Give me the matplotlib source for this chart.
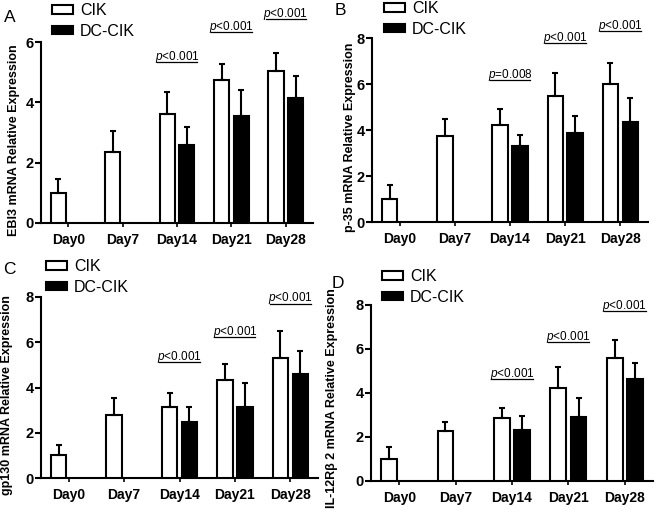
import numpy as np
import matplotlib
matplotlib.use("Agg")
import matplotlib.pyplot as plt
from matplotlib.patches import Patch

# -------------------------------------------------------
# Data
# -------------------------------------------------------
days = ["Day0", "Day7", "Day14", "Day21", "Day28"]
dc_idx = [2, 3, 4]

ebi3_cik = [1.0, 2.35, 3.6, 4.73, 5.03]
ebi3_cik_err = [0.47, 0.7, 0.73, 0.55, 0.62]
ebi3_dc = [2.58, 3.55, 4.13]
ebi3_dc_err = [0.59, 0.85, 0.75]
ebi3_p = ["p<0.001", "p<0.001", "p<0.001"]
ebi3_p_y = [5.35, 6.34, 6.75]

p35_cik = [1.0, 3.75, 4.22, 5.5, 6.0]
p35_cik_err = [0.6, 0.75, 0.68, 1.0, 0.92]
p35_dc = [3.3, 3.88, 4.35]
p35_dc_err = [0.5, 0.75, 1.02]
p35_p = ["p=0.008", "p<0.001", "p<0.001"]
p35_p_y = [6.17, 7.77, 8.3]

gp130_cik = [1.0, 2.78, 3.12, 4.32, 5.3]
gp130_cik_err = [0.45, 0.77, 0.65, 0.7, 1.2]
gp130_dc = [2.48, 3.12, 4.58]
gp130_dc_err = [0.67, 1.08, 1.02]
gp130_p = ["p<0.001", "p<0.001", "p<0.001"]
gp130_p_y = [5.12, 6.24, 7.71]

il12_cik = [1.0, 2.28, 2.87, 4.22, 5.58]
il12_cik_err = [0.55, 0.42, 0.45, 0.96, 0.85]
il12_dc = [2.33, 2.9, 4.65]
il12_dc_err = [0.62, 0.88, 0.73]
il12_p = ["p<0.001", "p<0.001", "p<0.001"]
il12_p_y = [4.62, 6.3, 7.73]

# -------------------------------------------------------
# Style
# -------------------------------------------------------
plt.rcParams["font.family"] = ["Liberation Sans", "DejaVu Sans"]
plt.rcParams["mathtext.fontset"] = "custom"
plt.rcParams["mathtext.rm"] = "Liberation Sans"
plt.rcParams["mathtext.it"] = "Liberation Sans:italic"

fig = plt.figure(figsize=(6.58, 5.12), dpi=100)

W, H = 658.0, 512.0


def px_axes(left, right, top, bottom):
    return fig.add_axes([left / W, 1 - bottom / H, (right - left) / W, (bottom - top) / H])


panels = [
    # letter, axes box px, ylim, yticks, ylabel, data, legend px, letter px, ylabel x/y
    ("A", (41, 313, 42, 223), 6, [0, 2, 4, 6], "EBI3 mRNA Relative Expression",
     ebi3_cik, ebi3_cik_err, ebi3_dc, ebi3_dc_err, ebi3_p, ebi3_p_y, (52, 3), (4, 10), (20, 0.46)),
    ("B", (372, 648, 38, 222), 8, [0, 2, 4, 6, 8], "p-35 mRNA Relative Expression",
     p35_cik, p35_cik_err, p35_dc, p35_dc_err, p35_p, p35_p_y, (384, 1), (335, 3), (356, 0.46)),
    ("C", (41, 318, 297, 478), 8, [0, 2, 4, 6, 8], "gp130 mRNA Relative Expression",
     gp130_cik, gp130_cik_err, gp130_dc, gp130_dc_err, gp130_p, gp130_p_y, (46, 259), (3, 262), (13, 0.46)),
    ("D", (371, 653, 305, 481), 8, [0, 2, 4, 6, 8], "IL-12R\u03b2 2 mRNA Relative Expression",
     il12_cik, il12_cik_err, il12_dc, il12_dc_err, il12_p, il12_p_y, (382, 269), (332, 276), (338, 0.47)),
]

width = 0.28
offset = 0.18
x = np.arange(len(days))

for (letter, box, ymax, yticks, ylabel, cik, cik_err, dc, dc_err,
     ptexts, p_y, leg_px, let_px, ylab_pos) in panels:

    left, right, top, bottom = box
    ax = px_axes(left, right, top, bottom)

    # CIK bars (white)
    ax.bar(x - offset, cik, width, color="white", edgecolor="black", linewidth=1.5,
           yerr=[np.zeros(len(cik)), cik_err],
           error_kw=dict(ecolor="black", elinewidth=1.5, capsize=2.5, capthick=1.5),
           zorder=3)

    # DC-CIK bars (black)
    xd = x[dc_idx]
    ax.bar(xd + offset, dc, width, color="black", edgecolor="black", linewidth=1.5,
           yerr=[np.zeros(len(dc)), dc_err],
           error_kw=dict(ecolor="black", elinewidth=1.5, capsize=2.5, capthick=1.5),
           zorder=3)

    # p-values with underline
    for g, txt, yy in zip(xd, ptexts, p_y):
        ax.plot([g - 0.37, g + 0.37], [yy, yy], color="black", lw=0.9, clip_on=False)
        ax.annotate("$\\it{p}$" + txt[1:], xy=(g, yy), xytext=(0, 1.5),
                    textcoords="offset points", ha="center", va="baseline",
                    fontsize=8.5, annotation_clip=False)

    ax.set_xlim(-0.5, 4.5)
    ax.set_ylim(0, ymax)
    ax.set_yticks(yticks)
    ax.set_xticks(x)
    ax.set_xticklabels(days, fontsize=10, fontweight="bold")
    for lab in ax.get_yticklabels():
        lab.set_fontsize(10.5)
        lab.set_fontweight("bold")

    ax.spines["top"].set_visible(False)
    ax.spines["right"].set_visible(False)
    ax.spines["left"].set_linewidth(1.5)
    ax.spines["bottom"].set_linewidth(1.5)
    ax.tick_params(axis="y", length=4, width=1.5, pad=1)
    ax.tick_params(axis="x", length=3, width=1.2, pad=4)

    ax.set_ylabel(ylabel, fontsize=9, fontweight="bold")
    ax.yaxis.set_label_coords((ylab_pos[0] - left) / (right - left), ylab_pos[1])

    # legend
    handles = [Patch(facecolor="white", edgecolor="black", linewidth=1.5, label="CIK"),
               Patch(facecolor="black", edgecolor="black", linewidth=1.5, label="DC-CIK")]
    ax.legend(handles=handles, loc="upper left",
              bbox_to_anchor=(leg_px[0] / W, 1 - leg_px[1] / H),
              bbox_transform=fig.transFigure, frameon=False, fontsize=11.5,
              borderpad=0, borderaxespad=0, handlelength=1.3, handleheight=0.45,
              handletextpad=0.45, labelspacing=0.35)

    # panel letter
    fig.text(let_px[0] / W, 1 - let_px[1] / H, letter, fontsize=12.5, va="top", ha="left")

fig.savefig("out.png", dpi=100)
